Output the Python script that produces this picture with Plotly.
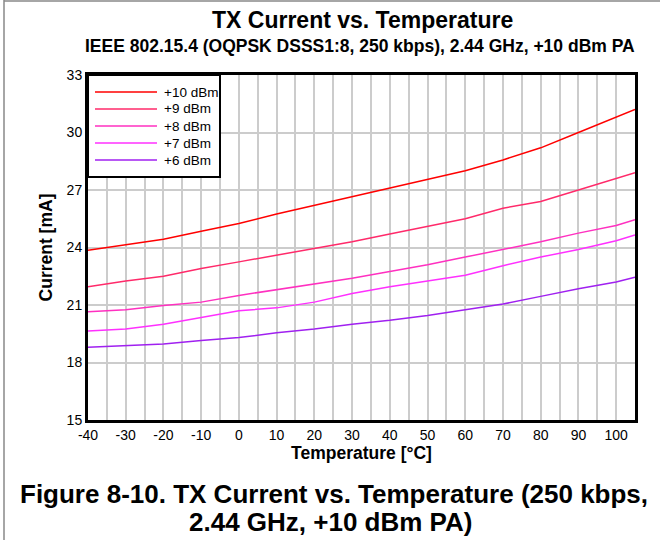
import plotly.graph_objects as go

temps = [-40, -30, -20, -10, 0, 10, 20, 30, 40, 50, 60, 70, 80, 90, 100, 105]
i_10dbm = [23.85, 24.15, 24.43, 24.85, 25.25, 25.75, 26.2, 26.65, 27.1, 27.55, 28.0, 28.57, 29.2, 30.0, 30.8, 31.2]
i_9dbm = [21.95, 22.25, 22.5, 22.9, 23.25, 23.6, 23.95, 24.3, 24.7, 25.1, 25.5, 26.05, 26.4, 27.0, 27.6, 27.9]
i_8dbm = [20.65, 20.75, 20.97, 21.15, 21.5, 21.8, 22.1, 22.4, 22.75, 23.1, 23.5, 23.9, 24.3, 24.75, 25.15, 25.45]
i_7dbm = [19.65, 19.75, 20.0, 20.35, 20.7, 20.85, 21.15, 21.6, 21.95, 22.25, 22.55, 23.05, 23.5, 23.9, 24.35, 24.65]
i_6dbm = [18.8, 18.9, 18.97, 19.15, 19.3, 19.55, 19.75, 20.0, 20.2, 20.45, 20.75, 21.05, 21.45, 21.85, 22.2, 22.45]

series_names = ["+10 dBm", "+9 dBm", "+8 dBm", "+7 dBm", "+6 dBm"]
series_vals = [i_10dbm, i_9dbm, i_8dbm, i_7dbm, i_6dbm]
colors = ["#ff0000", "#ff2a6a", "#ff30c0", "#ff30ff", "#a020f0"]

x_ticks = list(range(-40, 101, 10))
y_ticks = [15, 18, 21, 24, 27, 30, 33]

FONT = "Liberation Sans, Arial, Helvetica, sans-serif"

fig = go.Figure()
for name, vals, c in zip(series_names, series_vals, colors):
    fig.add_trace(go.Scatter(x=temps, y=vals, mode="lines", name=name,
                             line=dict(color=c, width=1.5), showlegend=False))

W, H = 660, 540
L, R, T, B = 88, 25, 75, 120
pw, ph = W - L - R, H - T - B

def px(xp):
    return (xp - L) / pw

def py(yp):
    return 1 - (yp - T) / ph

shapes = [
    dict(type="line", xref="paper", yref="paper", x0=px(4), x1=px(4), y0=py(0), y1=py(540),
         line=dict(color="#888888", width=1.5)),
    dict(type="line", xref="paper", yref="paper", x0=px(4), x1=px(660), y0=py(1), y1=py(1),
         line=dict(color="#888888", width=1.5)),
    # legend box
    dict(type="rect", xref="paper", yref="paper", x0=px(88), x1=px(220), y0=py(75), y1=py(177),
         fillcolor="white", line=dict(color="black", width=2), layer="above"),
]
annotations = [
    dict(text="<b>TX Current vs. Temperature</b>", x=px(362), y=py(20), xref="paper", yref="paper",
         xanchor="center", yanchor="middle", showarrow=False, font=dict(size=23)),
    dict(text="<b>IEEE 802.15.4 (OQPSK DSSS1:8, 250 kbps), 2.44 GHz, +10 dBm PA</b>",
         x=px(360), y=py(46), xref="paper", yref="paper",
         xanchor="center", yanchor="middle", showarrow=False, font=dict(size=17.5)),
    dict(text="<b>Figure 8-10. TX Current vs. Temperature (250 kbps,</b>",
         x=px(334), y=py(494), xref="paper", yref="paper",
         xanchor="center", yanchor="middle", showarrow=False, font=dict(size=26)),
    dict(text="<b>2.44 GHz, +10 dBm PA)</b>",
         x=px(330), y=py(522), xref="paper", yref="paper",
         xanchor="center", yanchor="middle", showarrow=False, font=dict(size=26)),
]
for k, (name, c) in enumerate(zip(series_names, colors)):
    yy = 92 + 17 * k
    shapes.append(dict(type="line", xref="paper", yref="paper", x0=px(95), x1=px(157),
                       y0=py(yy), y1=py(yy), line=dict(color=c, width=1.5), layer="above"))
    annotations.append(dict(text=name, x=px(162), y=py(yy), xref="paper", yref="paper",
                            xanchor="left", yanchor="middle", showarrow=False,
                            font=dict(size=13.5)))

fig.update_layout(
    width=W, height=H,
    margin=dict(l=L, r=R, t=T, b=B),
    paper_bgcolor="white", plot_bgcolor="white",
    font=dict(family=FONT, size=13, color="black"),
    showlegend=False,
    xaxis=dict(range=[-40, 105], tickvals=x_ticks, ticktext=[str(v) for v in x_ticks],
               showgrid=True, gridcolor="#cccccc", gridwidth=1.5,
               minor=dict(dtick=5, tick0=-40, showgrid=True, gridcolor="#cccccc", gridwidth=1.5),
               showline=True, linecolor="black", linewidth=3, mirror=True,
               zeroline=False, ticks="", tickfont=dict(size=14),
               title=dict(text="<b>Temperature [°C]</b>", font=dict(size=17.5), standoff=4)),
    yaxis=dict(range=[15, 33], tickvals=y_ticks, ticktext=[str(v) for v in y_ticks],
               showgrid=True, gridcolor="#cccccc", gridwidth=1.5,
               showline=True, linecolor="black", linewidth=3, mirror=True,
               zeroline=False, ticks="", tickfont=dict(size=14),
               title=dict(text="<b>Current [mA]</b>", font=dict(size=17.5), standoff=10)),
    annotations=annotations,
    shapes=shapes,
)

fig.write_html("out.html", config={"displayModeBar": False},
               post_script="document.body.style.margin='0';document.body.style.padding='0';")
